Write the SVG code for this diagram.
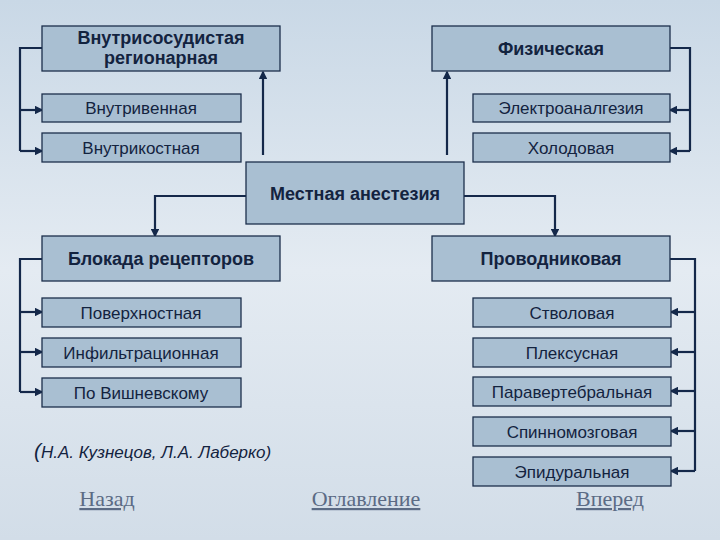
<svg xmlns="http://www.w3.org/2000/svg" width="720" height="540" viewBox="0 0 720 540">
<defs>
<linearGradient id="bg" x1="0" y1="0" x2="0" y2="1">
<stop offset="0" stop-color="#c9d8e6"/><stop offset="0.5" stop-color="#e4ebf2"/><stop offset="1" stop-color="#d2dde8"/>
</linearGradient>
<marker id="ar" viewBox="0 0 6 6" refX="5" refY="3" markerWidth="4" markerHeight="4" orient="auto"><path d="M0,0 L6,3 L0,6 z" fill="#14284a"/></marker>
<style>
.b{fill:#a9bfd2;stroke:#1c2f4c;stroke-width:1.3}
.t{font-family:"Liberation Sans",Arial,sans-serif;font-size:17px;fill:#13233f;text-anchor:middle}
.h{font-weight:bold;font-size:18px}
.c{fill:none;stroke:#14284a;stroke-width:2.2;marker-end:url(#ar)}
.l{fill:none;stroke:#14284a;stroke-width:2.2}
.n{font-family:"Liberation Serif",serif;font-size:22px;fill:#5b6b85;text-decoration:underline;text-anchor:middle}
</style>
</defs>
<rect width="720" height="540" fill="url(#bg)"/>
<g id="connectors">
<path class="l" d="M42,48 H20 V151"/><path class="c" d="M20,110 H42"/><path class="c" d="M20,151 H42"/>
<path class="l" d="M670,48 H690 V151"/><path class="c" d="M690,110 H670"/><path class="c" d="M690,151 H670"/>
<path class="c" d="M263,155 V72"/><path class="c" d="M447,155 V72"/>
<path class="c" d="M246,196 H155 V236"/><path class="c" d="M464,196 H555 V236"/>
<path class="l" d="M42,259 H20 V392"/><path class="c" d="M20,312 H42"/><path class="c" d="M20,352 H42"/><path class="c" d="M20,392 H42"/>
<path class="l" d="M670,259 H695 V471"/><path class="c" d="M695,312 H671"/><path class="c" d="M695,352 H671"/><path class="c" d="M695,391 H671"/><path class="c" d="M695,431 H671"/><path class="c" d="M695,471 H671"/>
</g>
<g id="n1"><rect class="b" x="42" y="26" width="238" height="45"/><text class="t h" x="161" y="44">Внутрисосудистая</text><text class="t h" x="161" y="64">регионарная</text></g>
<g id="n2"><rect class="b" x="42" y="94" width="199" height="28"/><text class="t" x="141" y="114">Внутривенная</text></g>
<g id="n3"><rect class="b" x="42" y="133" width="199" height="29"/><text class="t" x="141" y="154">Внутрикостная</text></g>
<g id="n4"><rect class="b" x="432" y="26" width="238" height="45"/><text class="t h" x="551" y="55">Физическая</text></g>
<g id="n5"><rect class="b" x="473" y="94" width="197" height="28"/><text class="t" x="571" y="114">Электроаналгезия</text></g>
<g id="n6"><rect class="b" x="473" y="133" width="197" height="29"/><text class="t" x="571" y="154">Холодовая</text></g>
<g id="n7"><rect class="b" x="246" y="162" width="218" height="62"/><text class="t h" x="355" y="200">Местная анестезия</text></g>
<g id="n8"><rect class="b" x="42" y="236" width="238" height="45"/><text class="t h" x="161" y="265">Блокада рецепторов</text></g>
<g id="n9"><rect class="b" x="432" y="236" width="238" height="45"/><text class="t h" x="551" y="265">Проводниковая</text></g>
<g id="n10"><rect class="b" x="42" y="298" width="199" height="29"/><text class="t" x="141" y="319">Поверхностная</text></g>
<g id="n11"><rect class="b" x="42" y="338" width="199" height="29"/><text class="t" x="141" y="359">Инфильтрационная</text></g>
<g id="n12"><rect class="b" x="42" y="378" width="199" height="29"/><text class="t" x="141" y="399">По Вишневскому</text></g>
<g id="n13"><rect class="b" x="473" y="298" width="198" height="29"/><text class="t" x="572" y="319">Стволовая</text></g>
<g id="n14"><rect class="b" x="473" y="338" width="198" height="29"/><text class="t" x="572" y="359">Плексусная</text></g>
<g id="n15"><rect class="b" x="473" y="377" width="198" height="29"/><text class="t" x="572" y="398">Паравертебральная</text></g>
<g id="n16"><rect class="b" x="473" y="417" width="198" height="29"/><text class="t" x="572" y="438">Спинномозговая</text></g>
<g id="n17"><rect class="b" x="473" y="457" width="198" height="29"/><text class="t" x="572" y="478">Эпидуральная</text></g>
<text x="34" y="458" font-family="Liberation Sans,Arial,sans-serif" font-size="17" font-style="italic" fill="#13233f"><tspan font-size="21">(</tspan>Н.А. Кузнецов, Л.А. Лаберко)</text>
<text class="n" x="107" y="506">Назад</text>
<text class="n" x="366" y="506">Оглавление</text>
<text class="n" x="610" y="506">Вперед</text>
</svg>
